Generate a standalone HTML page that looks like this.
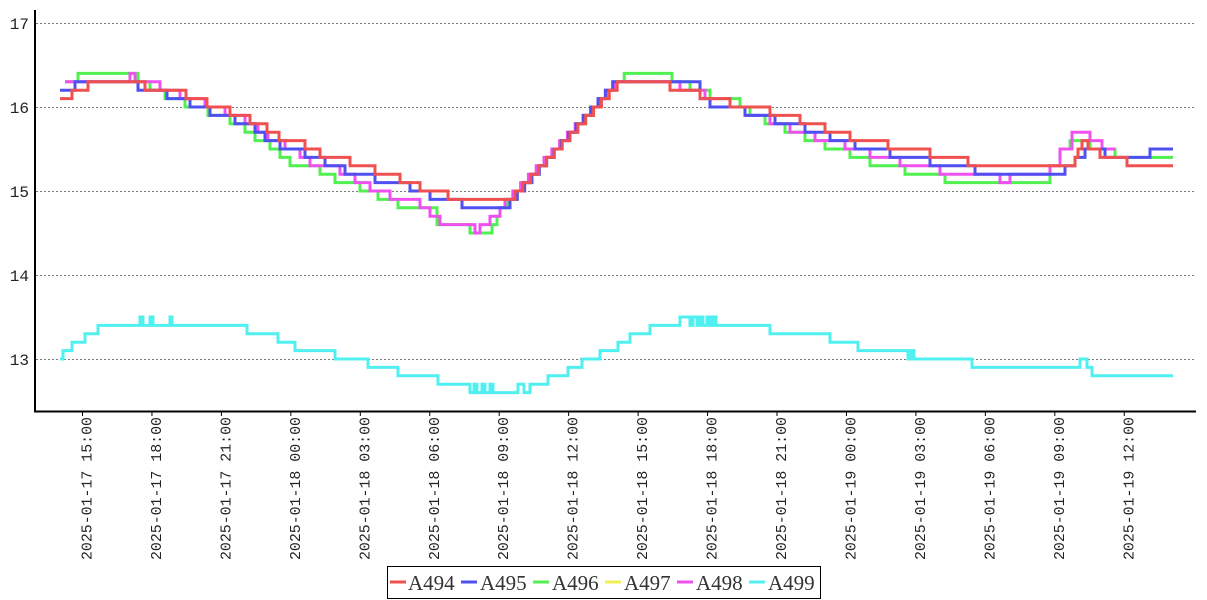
<!DOCTYPE html>
<html><head><meta charset="utf-8"><style>
body{margin:0;background:#fff;width:1207px;height:600px;overflow:hidden;}
svg{position:absolute;left:0;top:0}
</style></head><body>
<svg id="s" width="1207" height="600" xmlns="http://www.w3.org/2000/svg" font-family="Liberation Mono, monospace">
<g stroke="#777" stroke-dasharray="2,2" stroke-width="1">
<line x1="36" x2="1195" y1="23.5" y2="23.5"/><line x1="36" x2="1195" y1="107.5" y2="107.5"/>
<line x1="36" x2="1195" y1="191.5" y2="191.5"/><line x1="36" x2="1195" y1="275.5" y2="275.5"/>
<line x1="36" x2="1195" y1="359.5" y2="359.5"/>
</g>
<g font-size="16" fill="#222" text-anchor="end">
<text x="29" y="29">17</text><text x="29" y="113">16</text><text x="29" y="197">15</text><text x="29" y="281">14</text><text x="29" y="365">13</text>
</g>
<g id="series" fill="none" stroke-width="3"></g>
<line x1="35" y1="10" x2="35" y2="412" stroke="#000" stroke-width="2"/>
<line x1="34" y1="411.5" x2="1196" y1="411.5" y2="411.5" stroke="#000" stroke-width="2"/>
<g id="ticks"></g>
<rect x="387.5" y="566.5" width="433" height="32" fill="#fff" stroke="#000"/>
<g font-family="Liberation Serif, serif" font-size="21" fill="#333">
<line x1="390" x2="406" y1="582" y2="582" stroke="#f05050" stroke-width="3"/><text x="408" y="590">A494</text>
<line x1="461" x2="477" y1="582" y2="582" stroke="#5050f0" stroke-width="3"/><text x="480" y="590">A495</text>
<line x1="533" x2="549" y1="582" y2="582" stroke="#50f050" stroke-width="3"/><text x="552" y="590">A496</text>
<line x1="605" x2="621" y1="582" y2="582" stroke="#f0f050" stroke-width="3"/><text x="624" y="590">A497</text>
<line x1="677" x2="693" y1="582" y2="582" stroke="#f050f0" stroke-width="3"/><text x="696" y="590">A498</text>
<line x1="749" x2="765" y1="582" y2="582" stroke="#50f0f0" stroke-width="3"/><text x="768" y="590">A499</text>
</g>
</svg>
<script>
var NS="http://www.w3.org/2000/svg";
function Y(v){return 359-(v-13)*84;}
function rise(from,to,x0,x1){var a=[],n=Math.round((to-from)*10);for(var i=1;i<=n;i++)a.push([x0+(x1-x0)*(i-1)/n,from+i/10]);return a;}
function path(pts,end,col){var d="M"+pts[0][0]+","+Y(pts[0][1]);for(var i=1;i<pts.length;i++){d+="H"+pts[i][0]+"V"+Y(pts[i][1]);}d+="H"+end;
var p=document.createElementNS(NS,"path");p.setAttribute("d",d);p.setAttribute("stroke",col);document.getElementById("series").appendChild(p);}
var red=[[60,16.1],[72,16.2],[88,16.3],[145,16.2],[186,16.1],[207,16.0],[230,15.9],[250,15.8],[267,15.7],[279,15.6],[305,15.5],[320,15.4],[350,15.3],[375,15.2],[400,15.1],[420,15.0],[448,14.9]].concat(rise(14.9,16.3,515,625)).concat([[670,16.2],[700,16.1],[730,16.0],[770,15.9],[800,15.8],[825,15.7],[850,15.6],[888,15.5],[930,15.4],[968,15.3],[1075,15.4],[1078,15.5],[1082,15.6],[1088,15.5],[1100,15.4],[1127,15.3]]);
var blue=[[60,16.2],[75,16.3],[138,16.2],[167,16.1],[190,16.0],[210,15.9],[235,15.8],[255,15.7],[265,15.6],[280,15.5],[305,15.4],[325,15.3],[345,15.2],[375,15.1],[410,15.0],[430,14.9],[462,14.8]].concat(rise(14.8,16.3,510,620)).concat([[700,16.1],[710,16.0],[745,15.9],[775,15.8],[805,15.7],[830,15.6],[855,15.5],[890,15.4],[930,15.3],[975,15.2],[1065,15.3],[1075,15.4],[1085,15.5],[1105,15.4],[1150,15.5]]);
var green=[[65,16.3],[78,16.4],[138,16.3],[150,16.2],[165,16.1],[185,16.0],[208,15.9],[230,15.8],[245,15.7],[255,15.6],[270,15.5],[280,15.4],[290,15.3],[320,15.2],[335,15.1],[360,15.0],[378,14.9],[398,14.8],[437,14.6],[470,14.5],[492,14.6],[497,14.7]].concat(rise(14.7,16.4,500,632)).concat([[672,16.3],[690,16.2],[710,16.1],[740,16.0],[750,15.9],[765,15.8],[785,15.7],[805,15.6],[825,15.5],[850,15.4],[870,15.3],[905,15.2],[945,15.1],[1050,15.3],[1060,15.5],[1070,15.6],[1090,15.5],[1115,15.4]]);
var mag=[[65,16.3],[80,16.3],[130,16.4],[135,16.3],[160,16.2],[180,16.1],[205,16.0],[225,15.9],[245,15.8],[258,15.7],[268,15.6],[285,15.5],[300,15.4],[310,15.3],[340,15.2],[355,15.1],[370,15.0],[390,14.9],[420,14.8],[430,14.7],[440,14.6],[475,14.5],[480,14.6],[490,14.7],[500,14.8]].concat(rise(14.8,16.3,505,622)).concat([[680,16.2],[705,16.1],[730,16.0],[745,15.9],[770,15.8],[790,15.7],[815,15.6],[845,15.5],[870,15.4],[900,15.3],[940,15.2],[1000,15.1],[1010,15.2],[1050,15.3],[1060,15.5],[1072,15.7],[1090,15.6],[1102,15.5]]);
var cyan=[[60,13.0],[63,13.1],[72,13.2],[85,13.3],[98,13.4],[140,13.5],[143,13.4],[150,13.5],[153,13.4],[170,13.5],[172,13.4],[247,13.3],[278,13.2],[295,13.1],[335,13.0],[368,12.9],[398,12.8],[438,12.7],[470,12.6],[474,12.7],[477,12.6],[482,12.7],[485,12.6],[490,12.7],[493,12.6],[518,12.7],[524,12.6],[530,12.7],[548,12.8],[568,12.9],[582,13.0],[600,13.1],[618,13.2],[630,13.3],[650,13.4],[680,13.5],[690,13.4],[693,13.5],[697,13.4],[700,13.5],[703,13.4],[707,13.5],[710,13.4],[713,13.5],[716,13.4],[770,13.3],[830,13.2],[858,13.1],[908,13.0],[911,13.1],[914,13.0],[972,12.9],[1080,13.0],[1087,12.9],[1092,12.8]];
path(cyan,1173,"#50f0f0");path(green,1173,"#50f050");path(mag,1115,"#f050f0");path(blue,1173,"#5050f0");path(red,1173,"#f05050");
var g=document.getElementById("ticks"),days=["17","18","19"],s="";
for(var i=0;i<16;i++){var x=82.5+i*69.45,h=15+3*i,d=Math.floor(h/24),hh=h%24;
var lab="2025-01-"+days[d]+"  "+(hh<10?"0":"")+hh+":00";
s+='<line x1="'+x+'" x2="'+x+'" y1="412" y2="416" stroke="#000"/>';
s+='<text transform="translate('+(x+9)+',560) rotate(-90)" font-size="15" textLength="143" lengthAdjust="spacingAndGlyphs" fill="#222">'+lab+'</text>';}
g.innerHTML=s;
</script>
</body></html>
